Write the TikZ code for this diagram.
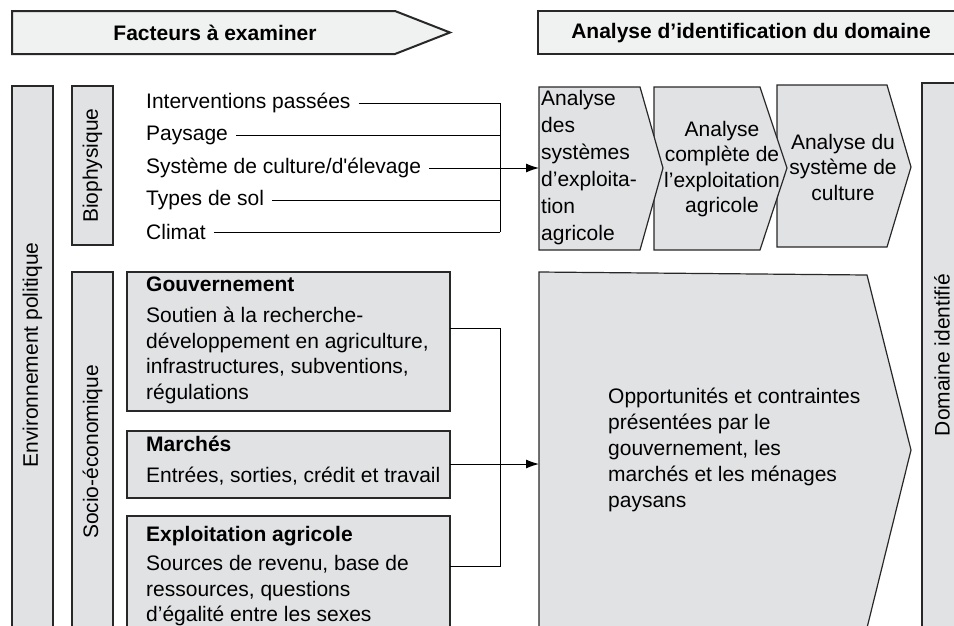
\documentclass[tikz,border=0pt]{standalone}
\usepackage{fontspec}
\setmainfont{Liberation Sans}
\newfontfamily\plainfont{Liberation Sans}
\usetikzlibrary{arrows.meta,calc}
\definecolor{boxfill}{RGB}{225,226,228}
\definecolor{bannerfill}{RGB}{240,241,241}
\definecolor{edge}{RGB}{40,40,40}
\begin{document}
\begin{tikzpicture}[x=1pt,y=-1pt,
  font=\fontsize{21}{25.5}\selectfont,
  banner/.style={draw=edge,fill=bannerfill,line width=2pt},
  panel/.style={draw=edge,fill=boxfill,line width=1.2pt},
  conn/.style={draw=black,line width=1pt},
  arr/.style={conn,-{Latex[length=13pt,width=9pt]}},
  item/.style={anchor=west,inner sep=0pt},
  bold/.style={font=\fontsize{21}{25.5}\selectfont\bfseries},
  vlabel/.style={rotate=90,inner sep=0pt}
]
\useasboundingbox (0,0) rectangle (954,625);

% top banners
\path[banner] (12,11) -- (395,11) -- (450,32.5) -- (395,54) -- (12,54) -- cycle;
\node[bold] (fact) at (215,33) {Facteurs à examiner};
\path[banner] (538,11) rectangle (966,54);
\node[bold] (anal) at (751,33) {Analyse d’identification du domaine};

% side panels
\path[panel] (12,86) rectangle (53,634);
\node[vlabel] (env) at (32.5,355) {Environnement politique};
\path[panel] (72,86) rectangle (113,245);
\node[vlabel] (bio) at (92.5,165.5) {Biophysique};
\path[panel] (72,272) rectangle (113,634);
\node[vlabel] (socio) at (92.5,452) {Socio-économique};
\path[panel] (922,83) rectangle (966,634);
\node[vlabel] (dom) at (942,355) {Domaine identifié};

% biophysical items
\node[item] (i1) at (146,103) {Interventions passées};
\node[item] (i2) at (146,135) {Paysage};
\node[item] (i3) at (146,168) {{\plainfont Système de culture/d'élevage}};
\node[item] (i4) at (146,200) {Types de sol};
\node[item] (i5) at (146,232) {Climat};
\coordinate (j1) at (500,103);
\coordinate (j2) at (500,135);
\coordinate (j3) at (500,168);
\coordinate (j4) at (500,200);
\coordinate (j5) at (500,232);
\foreach \k in {1,...,5}{
  \draw[conn] ([xshift=8pt]i\k.east) -- (j\k);
}
\draw[conn] (j1) -- (j5);

% chevrons (drawn right to left so each overlaps the next)
\path[panel] (777,85) -- (887,85) -- (911,167) -- (887,247) -- (777,247) -- cycle;
\path[panel] (654,87) -- (760,87) -- (787,168) -- (760,250) -- (654,250) -- cycle;
\path[panel] (539,87) -- (640,87) -- (663,168) -- (640,250) -- (539,250) -- cycle;
\coordinate (ch1) at (539,168);
\node[item,align=left,font=\fontsize{21}{27}\selectfont] (c1) at (541,168)
  {Analyse\\des\\systèmes\\d’exploita-\\tion\\agricole};
\node[inner sep=0pt,align=center] (c2) at (722,169)
  {Analyse\\complète de\\l’exploitation\\agricole};
\node[inner sep=0pt,align=center] (c3) at (843,167)
  {Analyse du\\système de\\culture};
\draw[arr] (j3) -- (ch1);

% socio-economic boxes
\path[panel] (127,272) rectangle (450,411);
\path[panel] (127,431) rectangle (450,498);
\path[panel] (127,516) rectangle (450,634);
\node[item,align=left] (gouv) at (146,340)
  {\textbf{Gouvernement}\\[6pt]Soutien à la recherche-\\développement en agriculture,\\infrastructures, subventions,\\régulations};
\node[item,align=left] (march) at (146,460.5)
  {\textbf{Marchés}\\[5pt]Entrées, sorties, crédit et travail};
\node[item,align=left] (expl) at (146,576)
  {\textbf{Exploitation agricole}\\[4pt]Sources de revenu, base de\\ressources, questions\\d’égalité entre les sexes};

\coordinate (g1) at (450,328);
\coordinate (m1) at (450,464);
\coordinate (e1) at (450,566);
\coordinate (k1) at (500,328);
\coordinate (k3) at (500,566);

% big pentagon
\path[panel] (539,272) -- (867,275) -- (911,450) -- (865.5,634) -- (539,634) -- cycle;
\coordinate (pw) at (539,464);
\node[item,align=left,font=\fontsize{21}{26}\selectfont] (opp) at (608,450)
  {Opportunités et contraintes\\présentées par le\\gouvernement, les\\marchés et les ménages\\paysans};

\draw[conn] (g1) -- (k1) -- (k3) -- (e1);
\draw[arr] (m1) -- (pw);
\end{tikzpicture}
\end{document}
